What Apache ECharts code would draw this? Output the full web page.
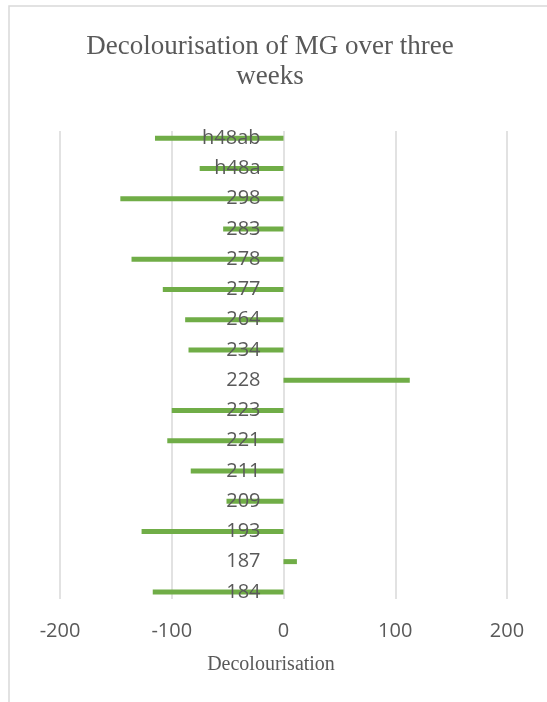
<!DOCTYPE html>
<html>
<head>
<meta charset="utf-8">
<script src="https://cdn.jsdelivr.net/npm/echarts@6/dist/echarts.min.js"></script>
<style>
  html, body { margin: 0; padding: 0; background: #ffffff; }
  #chart { width: 547px; height: 702px; }
</style>
</head>
<body>
<div id="chart"></div>
<script>
// Strain codes, listed bottom to top
const strains = ['184', '187', '193', '209', '211', '221', '223', '228', '234', '264', '277', '278', '283', '298', 'h48a', 'h48ab'];
// Decolourisation of malachite green after three weeks
const decolourisation = [-117, 12, -127, -51, -83, -104, -100, 113, -85, -88, -108, -136, -54, -146, -75, -115];
// Value axis range and step
const axisMin = -200;
const axisMax = 200;
const axisStep = 100;

const chart = echarts.init(document.getElementById('chart'), null, { renderer: 'canvas' });

const labelGray = '#595959';
const gridGray = '#d9d9d9';

// plot box (px)
const plotLeft = 60;
const plotRight = 40;
const plotWidth = 547 - plotLeft - plotRight;
// distance from the plot's left edge to the zero of the value axis
const zeroShift = plotWidth * (0 - axisMin) / (axisMax - axisMin);

chart.setOption({
  animation: false,
  backgroundColor: '#ffffff',
  title: [
    {
      text: 'Decolourisation of MG over three\nweeks',
      left: 270,
      top: 32,
      textAlign: 'center',
      padding: 0,
      textStyle: {
        fontFamily: '"Liberation Serif", "DejaVu Serif", serif',
        fontSize: 27,
        fontWeight: 'normal',
        color: labelGray,
        lineHeight: 30
      }
    },
    {
      text: 'Decolourisation',
      left: 271,
      top: 655,
      textAlign: 'center',
      padding: 0,
      textStyle: {
        fontFamily: '"Liberation Serif", "DejaVu Serif", serif',
        fontSize: 20,
        fontWeight: 'normal',
        color: labelGray
      }
    }
  ],
  graphic: [
    {
      type: 'rect',
      shape: { x: 9, y: 6, width: 700, height: 800 },
      style: { fill: 'none', stroke: gridGray, lineWidth: 1.5 },
      silent: true,
      z: -10
    }
  ],
  grid: [
    // bars and category labels
    { left: plotLeft, right: plotRight, top: 123, bottom: 95, outerBoundsMode: 'none', containLabel: false },
    // vertical gridlines
    { left: plotLeft, right: plotRight, top: 131, bottom: 103, outerBoundsMode: 'none', containLabel: false }
  ],
  xAxis: [
    {
      gridIndex: 0,
      type: 'value',
      min: axisMin,
      max: axisMax,
      interval: axisStep,
      axisLine: { show: false },
      axisTick: { show: false },
      splitLine: { show: false },
      axisLabel: {
        margin: 14,
        fontFamily: '"Open Sans", "Liberation Sans", sans-serif',
        fontSize: 20,
        color: labelGray
      }
    },
    {
      gridIndex: 1,
      type: 'value',
      min: axisMin,
      max: axisMax,
      interval: axisStep,
      axisLine: { show: false },
      axisTick: { show: false },
      axisLabel: { show: false },
      splitLine: { show: true, lineStyle: { color: gridGray, width: 1.5 } }
    }
  ],
  yAxis: [
    {
      gridIndex: 0,
      type: 'category',
      data: strains,
      position: 'left',
      // moved inward so the labels hang off the zero line
      offset: -zeroShift,
      z: 5,
      axisLine: { show: false, onZero: false },
      axisTick: { show: false },
      splitLine: { show: false },
      axisLabel: {
        margin: 23,
        fontFamily: '"Open Sans", "Liberation Sans", sans-serif',
        fontSize: 20,
        color: labelGray
      }
    },
    {
      gridIndex: 1,
      type: 'category',
      data: strains,
      show: false
    }
  ],
  series: [
    {
      type: 'bar',
      xAxisIndex: 0,
      yAxisIndex: 0,
      data: decolourisation,
      barWidth: 5,
      itemStyle: { color: '#70ad47' },
      z: 2
    }
  ]
});
</script>
</body>
</html>
